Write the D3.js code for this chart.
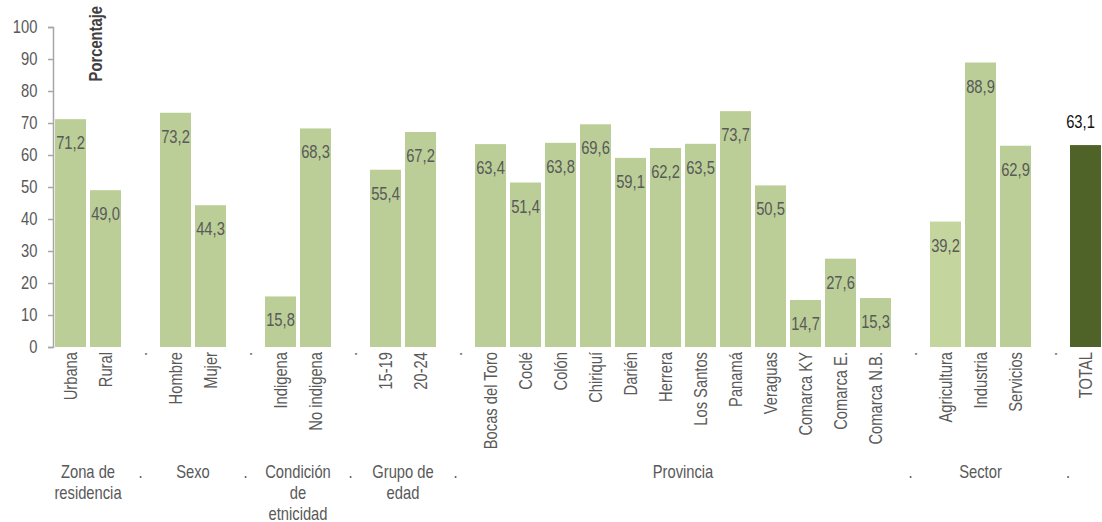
<!DOCTYPE html>
<html>
<head>
<meta charset="utf-8">
<script src="https://cdn.jsdelivr.net/npm/d3@7"></script>
<style>
  html, body { margin: 0; padding: 0; background: #fff; }
  svg { display: block; font-family: "Liberation Sans", Arial, sans-serif; }
</style>
</head>
<body>
<svg id="chart" width="1102" height="522"></svg>
<script>
// Categories along the x axis; "." entries are spacer slots between groups.
const categories = [
  "Urbana", "Rural", ".",
  "Hombre", "Mujer", ".",
  "Indigena", "No indigena", ".",
  "15-19", "20-24", ".",
  "Bocas del Toro", "Coclé", "Colón", "Chiriquí", "Darién", "Herrera",
  "Los Santos", "Panamá", "Veraguas", "Comarca KY", "Comarca E.", "Comarca N.B.", ".",
  "Agricultura", "Industria", "Servicios", ".",
  "TOTAL"
];

// Percentage per category (null for spacer slots).
const values = [
  71.2, 49.0, null,
  73.2, 44.3, null,
  15.8, 68.3, null,
  55.4, 67.2, null,
  63.4, 51.4, 63.8, 69.6, 59.1, 62.2, 63.5, 73.7, 50.5, 14.7, 27.6, 15.3, null,
  39.2, 88.9, 62.9, null,
  63.1
];

// Group captions under the category labels, with the first/last slot each one spans.
const groupNames = [
  ["Zona de", "residencia"], ["."], ["Sexo"], ["."],
  ["Condición", "de", "etnicidad"], ["."], ["Grupo de", "edad"], ["."],
  ["Provincia"], ["."], ["Sector"], ["."]
];
const groupFirst = [0, 2, 3, 5, 6, 8, 9, 11, 12, 24, 25, 28];
const groupLast  = [1, 2, 4, 5, 7, 8, 10, 11, 23, 24, 27, 29];

const yTickValues = [0, 10, 20, 30, 40, 50, 60, 70, 80, 90, 100];
const axisTitle = "Porcentaje";

// ---- drawing ----
const svg = d3.select("#chart");
const NARROW = 0.82;            // horizontal squeeze giving a condensed face
const textColor = "#595959";
const barColor = "#bbce97";
const barColorSector = "#c4d69d";
const totalColor = "#4f6228";

const plotLeft = 53, plotTop = 27, plotBottom = 347;

const x = d3.scaleBand()
  .domain(d3.range(categories.length))
  .range([plotLeft, plotLeft + 35 * categories.length])
  .paddingInner(0.115)
  .paddingOuter(0.0575);

const y = d3.scaleLinear().domain([0, 100]).range([plotBottom, plotTop]);

const locale = d3.formatLocale({ decimal: ",", thousands: ".", grouping: [3], currency: ["", ""] });
const fmt = locale.format(".1f");

// Y axis
const yAxis = d3.axisLeft(y).tickValues(yTickValues).tickSize(5).tickPadding(14).tickFormat(d3.format("d"));
const gy = svg.append("g").attr("transform", `translate(${plotLeft},0)`).call(yAxis);
gy.select(".domain").attr("stroke", "#a6a6a6").attr("stroke-width", 1.5);
gy.selectAll(".tick line").attr("stroke", "#a6a6a6").attr("stroke-width", 1.5);
gy.selectAll(".tick text")
  .attr("fill", textColor)
  .attr("font-size", 18)
  .attr("font-family", "'Liberation Sans', Arial, sans-serif")
  .attr("transform", `scale(${NARROW},1)`);

// Bars
const barData = values.map((v, i) => ({ i, v, name: categories[i] })).filter(d => d.v !== null);

svg.append("g").selectAll("rect")
  .data(barData)
  .join("rect")
  .attr("x", d => x(d.i))
  .attr("width", x.bandwidth())
  .attr("y", d => y(d.v))
  .attr("height", d => y(0) - y(d.v))
  .attr("fill", d => d.name === "TOTAL" ? totalColor : (d.name === "Agricultura" ? barColorSector : barColor));

// Value labels: inside the top of each bar, above the TOTAL bar
svg.append("g").selectAll("text")
  .data(barData)
  .join("text")
  .attr("transform", d => {
    const cx = x(d.i) + x.bandwidth() / 2 + (d.name === "TOTAL" ? -5 : 0);
    const cy = d.name === "TOTAL" ? y(d.v) - 17 : y(d.v) + 30;
    return `translate(${cx},${cy}) scale(${NARROW},1)`;
  })
  .attr("text-anchor", "middle")
  .attr("font-size", 18)
  .attr("fill", d => d.name === "TOTAL" ? "#111" : textColor)
  .text(d => fmt(d.v));

// Category labels, rotated
svg.append("g").selectAll("text")
  .data(categories)
  .join("text")
  .attr("transform", (d, i) => `translate(${x(i) + x.bandwidth() / 2},${plotBottom + 5}) rotate(-90) scale(${NARROW},1)`)
  .attr("text-anchor", "end")
  .attr("dy", "0.35em")
  .attr("font-size", 18)
  .attr("fill", textColor)
  .text(d => d);

// Group captions
const gGroups = svg.append("g");
groupNames.forEach((lines, k) => {
  const cx = (x(groupFirst[k]) + x(groupLast[k]) + x.bandwidth()) / 2;
  const t = gGroups.append("text")
    .attr("transform", `translate(${cx},478) scale(${NARROW},1)`)
    .attr("text-anchor", "middle")
    .attr("font-size", 18)
    .attr("fill", textColor);
  lines.forEach((line, j) => {
    t.append("tspan").attr("x", 0).attr("dy", j === 0 ? 0 : 21).text(line);
  });
});

// Axis title
svg.append("text")
  .attr("transform", `translate(96,6) rotate(-90) scale(${NARROW},1)`)
  .attr("text-anchor", "end")
  .attr("dy", "0.35em")
  .attr("font-size", 18)
  .attr("font-weight", "bold")
  .attr("fill", "#404040")
  .text(axisTitle);
</script>
</body>
</html>
